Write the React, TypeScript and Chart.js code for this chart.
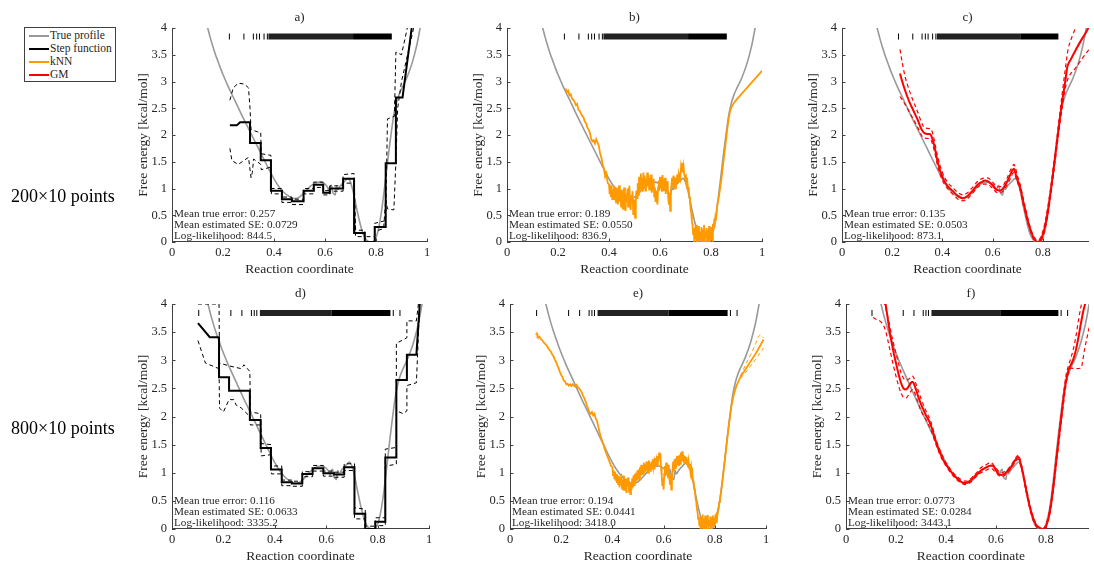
import React, { useEffect, useRef } from 'react';
import { Chart, registerables } from 'chart.js';

Chart.register(...registerables);

type P = [number, number];

const FONT = "'Liberation Serif', 'Times New Roman', serif";
const AXIS_COLOR = '#404040';
const TEXT_COLOR = '#262626';
const GRAY = '#999999';
const BLACK = '#000000';
const ORANGE = '#FF9900';
const RED = '#FF0000';

// ---------------- tick labels / texts ----------------
const X_TICKS = [0, 0.2, 0.4, 0.6, 0.8, 1];
const Y_TICKS = [0, 0.5, 1, 1.5, 2, 2.5, 3, 3.5, 4];
const PANEL_TITLES = ['a)', 'b)', 'c)', 'd)', 'e)', 'f)'];
const ROW_LABELS = ['200×10 points', '800×10 points'];
const LEGEND_LABELS = ['True profile', 'Step function', 'kNN', 'GM'];
const LEGEND_COLORS = [GRAY, BLACK, ORANGE, RED];
const MEAN_TRUE_ERROR = ['0.257', '0.189', '0.135', '0.116', '0.194', '0.0773'];
const MEAN_EST_SE = ['0.0729', '0.0550', '0.0503', '0.0633', '0.0441', '0.0284'];
const LOG_LIK = ['844.5', '836.9', '873.1', '3335.2', '3418.0', '3443.1'];
const X_TITLE = 'Reaction coordinate';
const Y_TITLE = 'Free energy [kcal/mol]';

// ---------------- data ----------------
const TRUE_PROFILE: P[] = [
  [0.135, 4.08], [0.14, 4.0], [0.15, 3.82], [0.16, 3.66], [0.17, 3.51], [0.18, 3.38], [0.19, 3.25],
  [0.2, 3.13], [0.22, 2.91], [0.24, 2.71], [0.26, 2.51], [0.28, 2.31], [0.3, 2.12], [0.32, 1.93],
  [0.34, 1.74], [0.36, 1.55], [0.38, 1.36], [0.4, 1.18], [0.42, 1.03], [0.44, 0.92], [0.46, 0.85],
  [0.48, 0.81], [0.5, 0.84], [0.52, 0.93], [0.54, 1.03], [0.56, 1.1], [0.58, 1.12], [0.6, 1.08],
  [0.61, 1.02], [0.615, 0.96], [0.62, 1.04], [0.625, 1.06], [0.63, 0.93], [0.635, 0.9], [0.64, 0.88],
  [0.645, 1.04], [0.65, 0.98], [0.66, 1.05], [0.67, 1.1], [0.68, 1.15], [0.69, 1.19], [0.7, 1.12],
  [0.71, 0.95], [0.72, 0.72], [0.73, 0.5], [0.74, 0.3], [0.75, 0.14], [0.76, 0.05], [0.77, 0.01],
  [0.78, 0.0], [0.79, 0.01], [0.8, 0.08], [0.81, 0.25], [0.82, 0.52], [0.83, 0.88], [0.84, 1.28],
  [0.85, 1.68], [0.86, 2.05], [0.87, 2.38], [0.88, 2.6], [0.89, 2.75], [0.9, 2.86], [0.92, 3.06],
  [0.94, 3.32], [0.96, 3.68], [0.975, 4.05],
];

// sample positions (rug)
const RUG_LEVEL = 3.84;
const RUG_TOP_SPARSE = [0.225, 0.282, 0.319, 0.332, 0.343, 0.361, 0.374];
const RUG_TOP_BAND = [0.378, 0.71, 0.862];
const RUG_BOTTOM_SPARSE = [0.104, 0.229, 0.272, 0.309, 0.32, 0.33, 0.861, 0.887];
const RUG_BOTTOM_BAND = [0.342, 0.62, 0.85];

// step function, 200x10
const STEP_A: P[] = [
  [0.227, 2.18], [0.254, 2.18], [0.267, 2.24], [0.306, 2.24], [0.306, 1.85], [0.348, 1.85],
  [0.348, 1.53], [0.388, 1.53], [0.388, 0.96], [0.431, 0.96], [0.431, 0.8], [0.47, 0.8],
  [0.47, 0.76], [0.516, 0.76], [0.516, 0.96], [0.556, 0.96], [0.556, 1.07], [0.593, 1.07],
  [0.593, 0.92], [0.619, 0.92], [0.619, 1.0], [0.671, 1.0], [0.671, 1.18], [0.714, 1.18],
  [0.714, 0.17], [0.756, 0.17], [0.756, 0.0], [0.795, 0.0], [0.795, 0.28], [0.838, 0.28],
  [0.838, 1.47], [0.878, 1.47], [0.878, 2.7], [0.904, 2.7], [0.94, 4.0],
];
const STEP_A_UP: P[] = [
  [0.227, 2.65], [0.24, 2.88], [0.26, 2.97], [0.285, 2.95], [0.3, 2.88], [0.306, 2.5], [0.31, 2.1],
  [0.335, 2.06], [0.348, 2.05], [0.35, 1.65], [0.388, 1.62], [0.39, 1.0], [0.431, 1.0],
  [0.431, 0.84], [0.47, 0.84], [0.47, 0.8], [0.516, 0.8], [0.516, 1.0], [0.556, 1.0], [0.556, 1.12],
  [0.593, 1.12], [0.593, 0.96], [0.619, 0.96], [0.619, 1.05], [0.671, 1.05], [0.671, 1.26],
  [0.714, 1.28], [0.72, 0.22], [0.756, 0.22], [0.756, 0.1], [0.795, 0.1], [0.795, 0.35],
  [0.838, 0.4], [0.845, 2.3], [0.872, 2.35], [0.878, 3.55], [0.9, 3.5], [0.925, 4.05],
];
const STEP_A_LO: P[] = [
  [0.227, 1.75], [0.235, 1.52], [0.26, 1.45], [0.29, 1.55], [0.3, 1.58], [0.31, 1.2], [0.315, 1.3],
  [0.32, 1.55], [0.335, 1.5], [0.348, 1.45], [0.35, 1.35], [0.388, 1.4], [0.39, 0.9], [0.431, 0.9],
  [0.431, 0.74], [0.47, 0.74], [0.47, 0.7], [0.516, 0.7], [0.516, 0.9], [0.556, 0.9], [0.556, 1.02],
  [0.593, 1.02], [0.593, 0.88], [0.619, 0.88], [0.619, 0.95], [0.671, 0.95], [0.671, 1.1],
  [0.714, 1.1], [0.72, 0.1], [0.756, 0.1], [0.756, -0.05], [0.795, -0.05], [0.795, 0.2],
  [0.83, 0.25], [0.838, 0.8], [0.845, 0.62], [0.87, 0.6], [0.878, 1.5], [0.885, 2.5], [0.9, 3.0],
  [0.95, 4.05],
];

// step function, 800x10
const STEP_D: P[] = [
  [0.101, 3.66], [0.147, 3.41], [0.183, 3.41], [0.183, 2.7], [0.222, 2.7], [0.222, 2.46],
  [0.303, 2.46], [0.303, 1.94], [0.345, 1.94], [0.345, 1.44], [0.385, 1.44], [0.385, 1.06],
  [0.427, 1.06], [0.427, 0.83], [0.466, 0.83], [0.466, 0.81], [0.507, 0.81], [0.507, 0.98],
  [0.547, 0.98], [0.547, 1.08], [0.589, 1.08], [0.589, 0.99], [0.631, 0.99], [0.631, 0.97],
  [0.67, 0.97], [0.67, 1.1], [0.71, 1.1], [0.71, 0.27], [0.752, 0.27], [0.752, 0.0], [0.791, 0.0],
  [0.791, 0.13], [0.83, 0.13], [0.83, 1.27], [0.873, 1.27], [0.873, 2.65], [0.914, 2.65],
  [0.914, 3.1], [0.951, 3.1], [0.964, 4.0],
];
const STEP_D_UP: P[] = [
  [0.101, 4.0], [0.183, 4.0], [0.185, 2.95], [0.222, 2.9], [0.27, 2.85], [0.28, 2.92], [0.303, 2.8],
  [0.305, 2.08], [0.345, 2.05], [0.347, 1.52], [0.385, 1.5], [0.387, 1.12], [0.427, 1.12],
  [0.427, 0.87], [0.466, 0.87], [0.466, 0.85], [0.507, 0.85], [0.507, 1.02], [0.547, 1.02],
  [0.547, 1.13], [0.589, 1.13], [0.589, 1.03], [0.631, 1.03], [0.631, 1.01], [0.67, 1.01],
  [0.67, 1.16], [0.71, 1.16], [0.71, 0.38], [0.752, 0.35], [0.752, 0.05], [0.791, 0.05],
  [0.791, 0.2], [0.83, 0.2], [0.83, 1.42], [0.873, 1.45], [0.873, 3.3], [0.914, 3.4], [0.914, 3.7],
  [0.951, 3.7], [0.96, 4.05],
];
const STEP_D_LO: P[] = [
  [0.101, 3.35], [0.13, 2.95], [0.183, 2.85], [0.185, 2.15], [0.2, 2.08], [0.222, 2.3], [0.24, 2.3],
  [0.25, 2.2], [0.27, 2.15], [0.303, 2.0], [0.305, 1.85], [0.345, 1.85], [0.347, 1.3], [0.385, 1.32],
  [0.387, 0.98], [0.427, 0.98], [0.427, 0.77], [0.466, 0.77], [0.466, 0.76], [0.507, 0.76],
  [0.507, 0.93], [0.547, 0.93], [0.547, 1.03], [0.589, 1.03], [0.589, 0.94], [0.631, 0.94],
  [0.631, 0.92], [0.67, 0.92], [0.67, 1.04], [0.71, 1.04], [0.71, 0.18], [0.752, 0.18],
  [0.752, -0.05], [0.791, -0.05], [0.791, 0.06], [0.83, 0.06], [0.83, 1.12], [0.873, 1.15],
  [0.873, 2.1], [0.9, 2.05], [0.914, 2.1], [0.914, 2.55], [0.951, 2.6], [0.964, 4.05],
];

// kNN, 200x10
const KNN_B: P[] = [
  [0.23, 2.87], [0.235, 2.8], [0.24, 2.83], [0.245, 2.74], [0.25, 2.76], [0.255, 2.68], [0.26, 2.66],
  [0.265, 2.62], [0.27, 2.56], [0.275, 2.58], [0.28, 2.47], [0.285, 2.45], [0.29, 2.4], [0.295, 2.36],
  [0.3, 2.33], [0.305, 2.25], [0.31, 2.22], [0.315, 2.14], [0.32, 2.1], [0.325, 2.04], [0.33, 1.93],
  [0.335, 1.88], [0.34, 1.9], [0.345, 1.84], [0.35, 1.92], [0.355, 1.86], [0.36, 1.8], [0.365, 1.66],
  [0.37, 1.58], [0.375, 1.45], [0.38, 1.38], [0.385, 1.22], [0.39, 1.28], [0.395, 1.1],
  [0.4, 1.08], [0.4025, 0.9], [0.405, 1.02], [0.4075, 0.84], [0.41, 1.06], [0.4125, 0.8], [0.415, 0.98],
  [0.4175, 0.86], [0.42, 1.04], [0.4225, 0.78], [0.425, 0.95], [0.4275, 0.74], [0.43, 1.02], [0.4325, 0.82],
  [0.435, 0.7], [0.4375, 0.96], [0.44, 1.06], [0.4425, 0.76], [0.445, 0.92], [0.4475, 0.66], [0.45, 0.98],
  [0.4525, 0.72], [0.455, 0.62], [0.4575, 0.94], [0.46, 1.02], [0.4625, 0.68], [0.465, 0.58], [0.4675, 0.9],
  [0.47, 0.76], [0.4725, 1.0], [0.475, 0.66], [0.4775, 0.92], [0.48, 1.05], [0.4825, 0.7], [0.485, 0.6],
  [0.4875, 0.88], [0.49, 0.74], [0.4925, 0.95], [0.495, 0.52], [0.4975, 0.8], [0.5, 0.62], [0.5025, 0.45],
  [0.505, 0.78], [0.5075, 0.96], [0.51, 0.82], [0.5125, 1.1], [0.515, 0.88], [0.5175, 1.22], [0.52, 0.92],
  [0.5225, 1.15], [0.525, 1.28], [0.5275, 0.98], [0.53, 1.2], [0.5325, 0.94], [0.535, 1.3], [0.5375, 1.05],
  [0.54, 1.24], [0.5425, 0.96], [0.545, 1.18], [0.5475, 1.02], [0.55, 1.3], [0.5525, 1.08], [0.555, 1.25],
  [0.5575, 0.98], [0.56, 1.2], [0.5625, 1.06], [0.565, 1.26], [0.5675, 0.92], [0.57, 1.12], [0.5725, 0.95],
  [0.575, 1.18], [0.5775, 0.85], [0.58, 1.02], [0.5825, 0.75], [0.585, 0.96], [0.5875, 0.8], [0.59, 0.7],
  [0.5925, 1.02], [0.595, 1.15], [0.5975, 0.96], [0.6, 1.22], [0.6025, 1.0], [0.605, 1.16], [0.6075, 0.94],
  [0.61, 1.25], [0.6125, 1.02], [0.615, 1.18], [0.6175, 0.96], [0.62, 1.2], [0.6225, 0.9], [0.625, 1.12],
  [0.6275, 0.95], [0.63, 1.14], [0.6325, 0.82], [0.635, 0.7], [0.6375, 0.92], [0.64, 0.58], [0.6425, 0.85],
  [0.645, 1.08], [0.6475, 1.2], [0.65, 1.02], [0.6525, 1.24], [0.655, 1.05], [0.6575, 1.22], [0.66, 1.0],
  [0.6625, 1.18], [0.665, 1.08], [0.6675, 1.26], [0.67, 1.1], [0.6725, 1.24], [0.675, 1.14], [0.6775, 1.3],
  [0.68, 1.22], [0.6825, 1.4], [0.685, 1.32], [0.6875, 1.48], [0.69, 1.3], [0.6925, 1.4], [0.695, 1.26],
  [0.6975, 1.22], [0.7, 1.15], [0.7025, 1.2], [0.705, 1.08], [0.7075, 1.12], [0.71, 0.98], [0.7125, 1.02],
  [0.715, 0.85], [0.7175, 0.78], [0.72, 0.62], [0.7225, 0.55], [0.725, 0.4], [0.7275, 0.32], [0.73, 0.15],
  [0.7325, 0.25], [0.735, -0.05], [0.7375, 0.28], [0.74, 0.05], [0.7425, 0.32], [0.745, -0.04], [0.7475, 0.22],
  [0.75, 0.02], [0.7525, 0.3], [0.755, -0.05], [0.7575, 0.18], [0.76, 0.06], [0.7625, 0.28], [0.765, -0.03],
  [0.7675, 0.24], [0.77, 0.04], [0.7725, 0.32], [0.775, -0.02], [0.7775, 0.2], [0.78, 0.08], [0.7825, 0.26],
  [0.785, -0.04], [0.7875, 0.22], [0.79, 0.1], [0.7925, 0.3], [0.795, -0.03], [0.7975, 0.25], [0.8, 0.05],
  [0.8025, 0.28], [0.805, 0.02], [0.8075, 0.34], [0.81, 0.22], [0.8125, 0.38], [0.815, 0.35], [0.8175, 0.48],
  [0.82, 0.45], [0.825, 0.7], [0.83, 0.82], [0.835, 0.98], [0.84, 1.15], [0.845, 1.35], [0.85, 1.55],
  [0.855, 1.75], [0.86, 1.95], [0.865, 2.15], [0.87, 2.32], [0.875, 2.45], [0.88, 2.52], [0.89, 2.6],
  [0.9, 2.66], [1.0, 3.2],
];

// kNN, 800x10
const KNN_E: P[] = [
  [0.1, 3.47], [0.105, 3.46], [0.11, 3.41], [0.115, 3.42], [0.12, 3.38], [0.125, 3.36], [0.13, 3.33],
  [0.135, 3.3], [0.14, 3.28], [0.145, 3.25], [0.15, 3.21], [0.155, 3.18], [0.16, 3.15], [0.165, 3.1],
  [0.17, 3.07], [0.175, 3.01], [0.18, 2.97], [0.185, 2.91], [0.19, 2.86], [0.195, 2.79], [0.2, 2.74],
  [0.205, 2.7], [0.21, 2.64], [0.215, 2.62], [0.22, 2.57], [0.225, 2.58], [0.23, 2.55], [0.235, 2.57],
  [0.24, 2.54], [0.245, 2.57], [0.25, 2.55], [0.255, 2.53], [0.26, 2.56], [0.265, 2.52], [0.27, 2.5],
  [0.275, 2.47], [0.28, 2.43], [0.285, 2.37], [0.29, 2.33], [0.295, 2.27], [0.3, 2.2], [0.305, 2.14],
  [0.31, 2.08], [0.315, 2.05], [0.32, 2.08], [0.325, 2.02], [0.33, 2.05], [0.335, 1.96], [0.34, 1.92],
  [0.345, 1.82], [0.35, 1.72], [0.355, 1.64], [0.36, 1.56], [0.365, 1.5], [0.37, 1.42], [0.375, 1.36],
  [0.38, 1.3], [0.385, 1.24], [0.39, 1.18], [0.395, 1.12],
  [0.4, 1.1], [0.4025, 0.96], [0.405, 1.04], [0.4075, 0.9], [0.41, 1.02], [0.4125, 0.86], [0.415, 0.98],
  [0.4175, 0.82], [0.42, 0.96], [0.4225, 0.8], [0.425, 0.94], [0.4275, 0.74], [0.43, 0.92], [0.4325, 0.78],
  [0.435, 0.98], [0.4375, 0.72], [0.44, 0.88], [0.4425, 0.7], [0.445, 0.95], [0.4475, 0.68], [0.45, 0.86],
  [0.4525, 0.72], [0.455, 0.64], [0.4575, 0.9], [0.46, 0.76], [0.4625, 0.92], [0.465, 0.66], [0.4675, 0.84],
  [0.47, 0.62], [0.4725, 0.8], [0.475, 0.7], [0.4775, 0.9], [0.48, 0.74], [0.4825, 0.95], [0.485, 0.78],
  [0.4875, 0.98], [0.49, 0.8], [0.4925, 1.0], [0.495, 0.86], [0.4975, 1.04], [0.5, 0.9], [0.5025, 1.06],
  [0.505, 0.88], [0.5075, 1.1], [0.51, 0.94], [0.5125, 1.14], [0.515, 0.96], [0.5175, 1.12], [0.52, 0.98],
  [0.5225, 1.18], [0.525, 1.0], [0.5275, 1.15], [0.53, 1.02], [0.5325, 1.2], [0.535, 1.04], [0.5375, 1.18],
  [0.54, 1.0], [0.5425, 1.22], [0.545, 1.06], [0.5475, 1.16], [0.55, 1.02], [0.5525, 1.2], [0.555, 1.08],
  [0.5575, 1.24], [0.56, 1.1], [0.5625, 1.18], [0.565, 1.06], [0.5675, 1.26], [0.57, 1.12], [0.5725, 1.22],
  [0.575, 1.14], [0.5775, 1.3], [0.58, 1.2], [0.5825, 1.36], [0.585, 1.26], [0.5875, 1.34], [0.59, 1.08],
  [0.5925, 0.96], [0.595, 0.78], [0.5975, 0.9], [0.6, 0.7], [0.6025, 0.98], [0.605, 1.12], [0.6075, 0.94],
  [0.61, 1.18], [0.6125, 1.0], [0.615, 1.16], [0.6175, 0.92], [0.62, 1.14], [0.6225, 0.9], [0.625, 0.8],
  [0.6275, 0.98], [0.63, 0.7], [0.6325, 0.86], [0.635, 1.06], [0.6375, 1.2], [0.64, 1.02], [0.6425, 1.24],
  [0.645, 1.08], [0.6475, 1.26], [0.65, 1.1], [0.6525, 1.3], [0.655, 1.14], [0.6575, 1.28], [0.66, 1.12],
  [0.6625, 1.32], [0.665, 1.16], [0.6675, 1.36], [0.67, 1.22], [0.6725, 1.38], [0.675, 1.2], [0.6775, 1.32],
  [0.68, 1.18], [0.6825, 1.3], [0.685, 1.16], [0.6875, 1.28], [0.69, 1.14], [0.6925, 1.24], [0.695, 1.1],
  [0.6975, 1.2], [0.7, 1.08], [0.7025, 1.16], [0.705, 1.02], [0.7075, 1.1], [0.71, 0.96], [0.7125, 1.0],
  [0.715, 0.86], [0.7175, 0.84], [0.72, 0.72], [0.7225, 0.66], [0.725, 0.55], [0.7275, 0.48], [0.73, 0.36],
  [0.7325, 0.3], [0.735, 0.18], [0.7375, 0.22], [0.74, 0.05], [0.7425, 0.2], [0.745, -0.04], [0.7475, 0.22],
  [0.75, 0.04], [0.7525, 0.26], [0.755, -0.03], [0.7575, 0.18], [0.76, 0.05], [0.7625, 0.24], [0.765, -0.02],
  [0.7675, 0.2], [0.77, 0.06], [0.7725, 0.25], [0.775, -0.03], [0.7775, 0.16], [0.78, 0.04], [0.7825, 0.22],
  [0.785, -0.02], [0.7875, 0.18], [0.79, 0.06], [0.7925, 0.24], [0.795, 0.02], [0.7975, 0.2], [0.8, 0.08],
  [0.8025, 0.26], [0.805, 0.12], [0.8075, 0.3], [0.81, 0.24], [0.8125, 0.36], [0.815, 0.38], [0.8175, 0.48],
  [0.82, 0.5], [0.825, 0.68], [0.83, 0.85], [0.835, 1.05], [0.84, 1.25], [0.845, 1.45], [0.85, 1.65],
  [0.855, 1.85], [0.86, 2.02], [0.865, 2.18], [0.87, 2.3], [0.875, 2.4], [0.88, 2.48], [0.885, 2.55],
  [0.89, 2.6], [0.895, 2.65], [0.9, 2.7], [0.92, 2.84], [0.94, 2.98], [0.96, 3.12], [0.98, 3.28],
  [0.99, 3.37],
];
const KNN_E_UP: P[] = [[0.9, 2.72], [0.92, 2.92], [0.94, 3.1], [0.96, 3.3], [0.97, 3.42], [0.98, 3.45], [0.99, 3.4]];
const KNN_E_LO: P[] = [[0.9, 2.68], [0.92, 2.78], [0.94, 2.9], [0.96, 3.02], [0.98, 3.15], [0.99, 3.22]];
const KNN_E_UP_START: P[] = [[0.102, 3.51], [0.11, 3.46], [0.12, 3.42]];
const KNN_E_LO_START: P[] = [[0.102, 3.42], [0.11, 3.38], [0.12, 3.35]];

// GM, 200x10
const GM_C: P[] = [
  [0.231, 3.15], [0.24, 3.0], [0.25, 2.85], [0.26, 2.72], [0.27, 2.6], [0.28, 2.5], [0.29, 2.4],
  [0.3, 2.3], [0.31, 2.18], [0.32, 2.08], [0.33, 2.03], [0.34, 2.02], [0.35, 2.02], [0.355, 1.99],
  [0.36, 1.93], [0.37, 1.75], [0.38, 1.52], [0.39, 1.35], [0.4, 1.22], [0.41, 1.12], [0.42, 1.05],
  [0.44, 0.96], [0.46, 0.87], [0.48, 0.82], [0.5, 0.86], [0.52, 0.96], [0.54, 1.07], [0.56, 1.13],
  [0.57, 1.15], [0.58, 1.14], [0.6, 1.06], [0.61, 1.0], [0.62, 0.97], [0.63, 0.96], [0.64, 0.99],
  [0.65, 1.06], [0.66, 1.15], [0.67, 1.25], [0.68, 1.35], [0.685, 1.37], [0.69, 1.3], [0.7, 1.15],
  [0.71, 1.02], [0.72, 0.8], [0.73, 0.6], [0.74, 0.4], [0.75, 0.24], [0.76, 0.11], [0.77, 0.03],
  [0.78, 0.0], [0.79, 0.03], [0.8, 0.14], [0.81, 0.32], [0.82, 0.58], [0.83, 0.9], [0.84, 1.25],
  [0.85, 1.62], [0.86, 2.0], [0.87, 2.38], [0.88, 2.72], [0.89, 3.02], [0.898, 3.28], [0.91, 3.4],
  [0.93, 3.58], [0.95, 3.75], [0.97, 3.9], [0.984, 4.02],
];
const GM_C_UP: P[] = [
  [0.231, 3.6], [0.24, 3.35], [0.25, 3.12], [0.26, 2.95], [0.28, 2.68], [0.3, 2.45], [0.32, 2.2],
  [0.33, 2.13], [0.35, 2.12], [0.36, 2.05], [0.37, 1.85], [0.38, 1.62], [0.4, 1.3], [0.42, 1.12],
  [0.44, 1.02], [0.46, 0.93], [0.48, 0.88], [0.5, 0.92], [0.52, 1.02], [0.54, 1.13], [0.56, 1.19],
  [0.58, 1.2], [0.6, 1.12], [0.62, 1.03], [0.64, 1.05], [0.66, 1.22], [0.67, 1.33], [0.68, 1.42],
  [0.685, 1.45], [0.69, 1.4], [0.7, 1.22], [0.71, 1.07], [0.72, 0.86], [0.74, 0.45], [0.76, 0.14],
  [0.78, 0.03], [0.8, 0.2], [0.82, 0.66], [0.84, 1.33], [0.86, 2.1], [0.88, 2.88], [0.89, 3.25],
  [0.9, 3.58], [0.92, 3.88], [0.935, 4.05],
];
const GM_C_LO: P[] = [
  [0.231, 2.72], [0.24, 2.66], [0.25, 2.58], [0.26, 2.5], [0.28, 2.33], [0.3, 2.16], [0.32, 1.97],
  [0.33, 1.94], [0.35, 1.93], [0.36, 1.84], [0.37, 1.66], [0.38, 1.44], [0.4, 1.15], [0.42, 1.0],
  [0.44, 0.9], [0.46, 0.81], [0.48, 0.77], [0.5, 0.81], [0.52, 0.91], [0.54, 1.02], [0.56, 1.08],
  [0.58, 1.08], [0.6, 1.0], [0.62, 0.92], [0.64, 0.94], [0.66, 1.09], [0.67, 1.18], [0.68, 1.28],
  [0.685, 1.3], [0.69, 1.24], [0.7, 1.1], [0.71, 0.97], [0.72, 0.74], [0.74, 0.36], [0.76, 0.08],
  [0.78, -0.02], [0.8, 0.09], [0.82, 0.5], [0.84, 1.17], [0.86, 1.92], [0.88, 2.6], [0.89, 2.88],
  [0.9, 3.05], [0.93, 3.25], [0.96, 3.45], [0.984, 3.6],
];

// GM, 800x10
const GM_F: P[] = [
  [0.158, 4.02], [0.17, 3.65], [0.18, 3.38], [0.19, 3.15], [0.2, 2.95], [0.21, 2.76], [0.22, 2.6],
  [0.23, 2.5], [0.24, 2.48], [0.25, 2.53], [0.26, 2.6], [0.265, 2.62], [0.27, 2.6], [0.28, 2.48],
  [0.29, 2.34], [0.3, 2.22], [0.31, 2.12], [0.32, 2.02], [0.33, 1.94], [0.34, 1.84], [0.35, 1.7],
  [0.36, 1.55], [0.37, 1.42], [0.38, 1.32], [0.39, 1.22], [0.4, 1.15], [0.42, 1.02], [0.44, 0.92],
  [0.46, 0.84], [0.47, 0.82], [0.48, 0.82], [0.5, 0.87], [0.52, 0.96], [0.54, 1.04], [0.56, 1.09],
  [0.58, 1.13], [0.59, 1.12], [0.6, 1.04], [0.61, 0.98], [0.62, 0.96], [0.63, 0.97], [0.64, 1.0],
  [0.65, 1.05], [0.66, 1.1], [0.67, 1.17], [0.68, 1.24], [0.69, 1.28], [0.7, 1.15], [0.71, 0.95],
  [0.72, 0.72], [0.73, 0.5], [0.74, 0.32], [0.75, 0.18], [0.76, 0.08], [0.77, 0.03], [0.78, 0.01],
  [0.79, 0.0], [0.8, 0.05], [0.81, 0.18], [0.82, 0.42], [0.83, 0.75], [0.84, 1.15], [0.85, 1.55],
  [0.86, 1.92], [0.87, 2.3], [0.88, 2.62], [0.89, 2.82], [0.9, 2.92], [0.91, 3.02], [0.92, 3.18],
  [0.93, 3.4], [0.94, 3.65], [0.95, 3.88], [0.958, 4.02],
];
const GM_F_UP: P[] = [
  [0.15, 4.05], [0.16, 3.9], [0.17, 3.72], [0.18, 3.5], [0.19, 3.3], [0.2, 3.12], [0.21, 2.95],
  [0.22, 2.78], [0.23, 2.68], [0.24, 2.64], [0.25, 2.66], [0.26, 2.7], [0.265, 2.72], [0.27, 2.7],
  [0.28, 2.58], [0.3, 2.32], [0.32, 2.1], [0.34, 1.9], [0.36, 1.6], [0.38, 1.36], [0.4, 1.18],
  [0.44, 0.95], [0.48, 0.85], [0.52, 0.99], [0.54, 1.09], [0.56, 1.14], [0.58, 1.18], [0.6, 1.08],
  [0.62, 1.0], [0.64, 1.03], [0.66, 1.13], [0.68, 1.27], [0.69, 1.31], [0.7, 1.18], [0.72, 0.76],
  [0.74, 0.36], [0.76, 0.1], [0.78, 0.02], [0.79, 0.01], [0.8, 0.08], [0.82, 0.47], [0.84, 1.22],
  [0.86, 2.0], [0.88, 2.72], [0.89, 2.9], [0.9, 3.04], [0.91, 3.2], [0.92, 3.42], [0.93, 3.7],
  [0.94, 3.95], [0.945, 4.05],
];
const GM_F_LO: P[] = [
  [0.108, 3.76], [0.12, 3.73], [0.135, 3.7], [0.15, 3.62], [0.16, 3.5], [0.17, 3.3], [0.18, 3.1],
  [0.19, 2.9], [0.2, 2.72], [0.21, 2.55], [0.22, 2.42], [0.23, 2.34], [0.24, 2.33], [0.25, 2.38],
  [0.26, 2.45], [0.265, 2.48], [0.27, 2.47], [0.28, 2.36], [0.3, 2.1], [0.32, 1.94], [0.34, 1.76],
  [0.36, 1.5], [0.38, 1.28], [0.4, 1.12], [0.44, 0.89], [0.48, 0.79], [0.52, 0.93], [0.54, 1.0],
  [0.56, 1.04], [0.58, 1.08], [0.6, 1.0], [0.62, 0.93], [0.64, 0.97], [0.66, 1.07], [0.68, 1.21],
  [0.69, 1.24], [0.7, 1.12], [0.72, 0.68], [0.74, 0.28], [0.76, 0.05], [0.78, -0.01], [0.79, -0.01],
  [0.8, 0.03], [0.82, 0.37], [0.84, 1.08], [0.86, 1.84], [0.88, 2.55], [0.89, 2.78], [0.9, 2.86],
  [0.92, 2.85], [0.94, 2.86], [0.955, 3.2], [0.973, 3.58],
];

// ---------------- layout ----------------
const Y_AXIS_W = 60;
const TOP_PAD = 30;
const X_AXIS_H = 45;

const PANELS = [
  { left: 172, top: 28, w: 255, h: 214, xMax: 1, padR: 8 },
  { left: 507, top: 28, w: 255, h: 214, xMax: 1, padR: 8 },
  { left: 842, top: 28, w: 252, h: 214, xMax: 0.984, padR: 0 },
  { left: 172, top: 304, w: 257, h: 225, xMax: 1, padR: 8 },
  { left: 510, top: 304, w: 256, h: 225, xMax: 1, padR: 8 },
  { left: 846, top: 304, w: 248, h: 225, xMax: 0.9725, padR: 0 },
];

const xy = (arr: P[]) => arr.map(([x, y]) => ({ x, y }));

function lineDs(data: P[], color: string, width: number, order: number, extra: any = {}) {
  return {
    type: 'line',
    data: xy(data),
    borderColor: color,
    backgroundColor: color,
    borderWidth: width,
    pointRadius: 0,
    fill: false,
    tension: 0,
    order,
    ...extra,
  };
}

function rugDatasets(sparse: number[], band: number[]) {
  return [
    {
      type: 'scatter',
      data: sparse.map((x) => ({ x, y: RUG_LEVEL })),
      pointStyle: 'line',
      pointRotation: 90,
      pointRadius: 3,
      pointBorderWidth: 1,
      pointBorderColor: '#000',
      borderColor: '#000',
      order: 0,
    },
    lineDs([[band[0], RUG_LEVEL], [band[1], RUG_LEVEL]], 'rgba(10,10,10,0.9)', 6, 0, { borderCapStyle: 'butt' }),
    lineDs([[band[1], RUG_LEVEL], [band[2], RUG_LEVEL]], '#000', 6, 0, { borderCapStyle: 'butt' }),
  ];
}

const SMOOTH = { cubicInterpolationMode: 'monotone' };
const DASH = { borderDash: [4, 3] };

function buildDatasets(i: number): any[] {
  const top = i < 3;
  const rug = top ? rugDatasets(RUG_TOP_SPARSE, RUG_TOP_BAND) : rugDatasets(RUG_BOTTOM_SPARSE, RUG_BOTTOM_BAND);
  const truth = lineDs(TRUE_PROFILE, GRAY, 1.6, 5, SMOOTH);
  switch (i) {
    case 0:
      return [...rug, lineDs(STEP_A, BLACK, 2, 1), lineDs(STEP_A_UP, BLACK, 1, 2, DASH), lineDs(STEP_A_LO, BLACK, 1, 2, DASH), truth];
    case 1:
      return [...rug, lineDs(KNN_B, ORANGE, 1.8, 1), truth];
    case 2:
      return [...rug, lineDs(GM_C, RED, 2, 1, SMOOTH), lineDs(GM_C_UP, RED, 1.2, 2, { ...SMOOTH, ...DASH }), lineDs(GM_C_LO, RED, 1.2, 2, { ...SMOOTH, ...DASH }), truth];
    case 3:
      return [...rug, lineDs(STEP_D, BLACK, 2, 1), lineDs(STEP_D_UP, BLACK, 1, 2, DASH), lineDs(STEP_D_LO, BLACK, 1, 2, DASH), truth];
    case 4:
      return [
        ...rug,
        lineDs(KNN_E, ORANGE, 1.8, 1),
        lineDs(KNN_E_UP, ORANGE, 1, 2, { ...SMOOTH, ...DASH }),
        lineDs(KNN_E_LO, ORANGE, 1, 2, { ...SMOOTH, ...DASH }),
        lineDs(KNN_E_UP_START, ORANGE, 1, 2, DASH),
        lineDs(KNN_E_LO_START, ORANGE, 1, 2, DASH),
        truth,
      ];
    default:
      return [...rug, lineDs(GM_F, RED, 2, 1, SMOOTH), lineDs(GM_F_UP, RED, 1.2, 2, { ...SMOOTH, ...DASH }), lineDs(GM_F_LO, RED, 1.2, 2, { ...SMOOTH, ...DASH }), truth];
  }
}

const fmt = (v: number) => String(Math.round(v * 10) / 10);

function Panel({ index }: { index: number }) {
  const ref = useRef<HTMLCanvasElement>(null);
  const cfg = PANELS[index];
  const W = Y_AXIS_W + cfg.w + cfg.padR;
  const H = TOP_PAD + cfg.h + X_AXIS_H;

  useEffect(() => {
    const canvas = ref.current;
    if (!canvas) return;

    const axesPlugin = {
      id: 'matlabAxes',
      beforeDatasetsDraw(chart: any) {
        const { ctx, chartArea } = chart;
        const { left, right, top, bottom } = chartArea;
        const xs = chart.scales.x;
        const ys = chart.scales.y;
        ctx.save();
        ctx.strokeStyle = AXIS_COLOR;
        ctx.lineWidth = 1;
        ctx.beginPath();
        ctx.moveTo(left + 0.5, top);
        ctx.lineTo(left + 0.5, bottom);
        ctx.moveTo(left, bottom - 0.5);
        ctx.lineTo(right, bottom - 0.5);
        ys.ticks.forEach((t: any) => {
          const py = Math.round(ys.getPixelForValue(t.value)) + 0.5;
          ctx.moveTo(left, py);
          ctx.lineTo(left + 3.5, py);
        });
        xs.ticks.forEach((t: any) => {
          const px = Math.round(xs.getPixelForValue(t.value)) + 0.5;
          ctx.moveTo(px, bottom);
          ctx.lineTo(px, bottom - 3.5);
        });
        ctx.stroke();
        ctx.restore();
      },
    };

    const textPlugin = {
      id: 'panelTexts',
      afterDraw(chart: any) {
        const { ctx, chartArea } = chart;
        const { left, top, bottom } = chartArea;
        const cx = chart.scales.x.getPixelForValue(0.5);
        ctx.save();
        ctx.fillStyle = TEXT_COLOR;
        ctx.textAlign = 'center';
        ctx.textBaseline = 'middle';
        ctx.font = `13px ${FONT}`;
        ctx.fillText(PANEL_TITLES[index], cx, top - 10.5);
        ctx.font = `13.5px ${FONT}`;
        ctx.fillText(X_TITLE, cx, bottom + 27);
        ctx.save();
        ctx.translate(left - 29, (top + bottom) / 2);
        ctx.rotate(-Math.PI / 2);
        ctx.fillText(Y_TITLE, 0, 0);
        ctx.restore();
        ctx.textAlign = 'left';
        ctx.font = `11.2px ${FONT}`;
        ctx.fillText(`Mean true error: ${MEAN_TRUE_ERROR[index]}`, left + 2, bottom - 28);
        ctx.fillText(`Mean estimated SE: ${MEAN_EST_SE[index]}`, left + 2, bottom - 17);
        ctx.fillText(`Log-likelihood: ${LOG_LIK[index]}`, left + 2, bottom - 6);
        ctx.restore();
      },
    };

    const chart = new Chart(canvas, {
      type: 'line',
      data: { datasets: buildDatasets(index) as any },
      options: {
        animation: false,
        responsive: false,
        maintainAspectRatio: false,
        devicePixelRatio: 1,
        events: [],
        layout: { padding: { left: 0, top: TOP_PAD, right: cfg.padR, bottom: 0 } },
        plugins: { legend: { display: false }, tooltip: { enabled: false }, title: { display: false } },
        scales: {
          x: {
            type: 'linear',
            min: 0,
            max: cfg.xMax,
            grid: { display: false, drawTicks: false },
            border: { display: false },
            afterBuildTicks: (s: any) => {
              s.ticks = X_TICKS.filter((v) => v <= cfg.xMax + 1e-9).map((value) => ({ value }));
            },
            afterFit: (s: any) => {
              s.height = X_AXIS_H;
            },
            ticks: {
              color: TEXT_COLOR,
              font: { family: FONT, size: 12.5 },
              padding: 3,
              maxRotation: 0,
              autoSkip: false,
              callback: (v: any) => fmt(Number(v)),
            },
          },
          y: {
            type: 'linear',
            min: 0,
            max: 4,
            grid: { display: false, drawTicks: false },
            border: { display: false },
            afterBuildTicks: (s: any) => {
              s.ticks = Y_TICKS.map((value) => ({ value }));
            },
            afterFit: (s: any) => {
              s.width = Y_AXIS_W;
            },
            ticks: {
              color: TEXT_COLOR,
              font: { family: FONT, size: 12.5 },
              padding: 5,
              autoSkip: false,
              callback: (v: any) => fmt(Number(v)),
            },
          },
        },
      } as any,
      plugins: [axesPlugin, textPlugin],
    });
    return () => chart.destroy();
  }, [index]);

  return (
    <canvas
      ref={ref}
      width={W}
      height={H}
      style={{ position: 'absolute', left: cfg.left - Y_AXIS_W, top: cfg.top - TOP_PAD, width: W, height: H }}
    />
  );
}

function Legend() {
  return (
    <div
      style={{
        position: 'absolute',
        left: 24,
        top: 27,
        width: 90,
        height: 53,
        border: `1px solid ${AXIS_COLOR}`,
        background: '#fff',
        zIndex: 2,
      }}
    >
      {LEGEND_LABELS.map((label, i) => (
        <div key={label} style={{ position: 'absolute', left: 0, top: 1 + i * 13, height: 13, width: 90 }}>
          <div
            style={{
              position: 'absolute',
              left: 4,
              top: 6,
              width: 20,
              height: 2,
              background: LEGEND_COLORS[i],
            }}
          />
          <div
            style={{
              position: 'absolute',
              left: 25,
              top: 0,
              lineHeight: '13px',
              fontSize: 11.5,
              fontFamily: FONT,
              color: TEXT_COLOR,
              whiteSpace: 'nowrap',
            }}
          >
            {label}
          </div>
        </div>
      ))}
    </div>
  );
}

export default function App() {
  return (
    <div
      style={{
        position: 'fixed',
        left: 0,
        top: 0,
        width: 1094,
        height: 563,
        overflow: 'hidden',
        background: '#fff',
        fontFamily: FONT,
      }}
    >
      {PANELS.map((_, i) => (
        <Panel key={i} index={i} />
      ))}
      <Legend />
      {ROW_LABELS.map((label, i) => (
        <div
          key={label}
          style={{
            position: 'absolute',
            left: 11,
            top: i === 0 ? 185 : 417,
            height: 22,
            lineHeight: '22px',
            fontSize: 18,
            fontFamily: FONT,
            color: '#000',
            whiteSpace: 'nowrap',
            zIndex: 2,
          }}
        >
          {label}
        </div>
      ))}
    </div>
  );
}
